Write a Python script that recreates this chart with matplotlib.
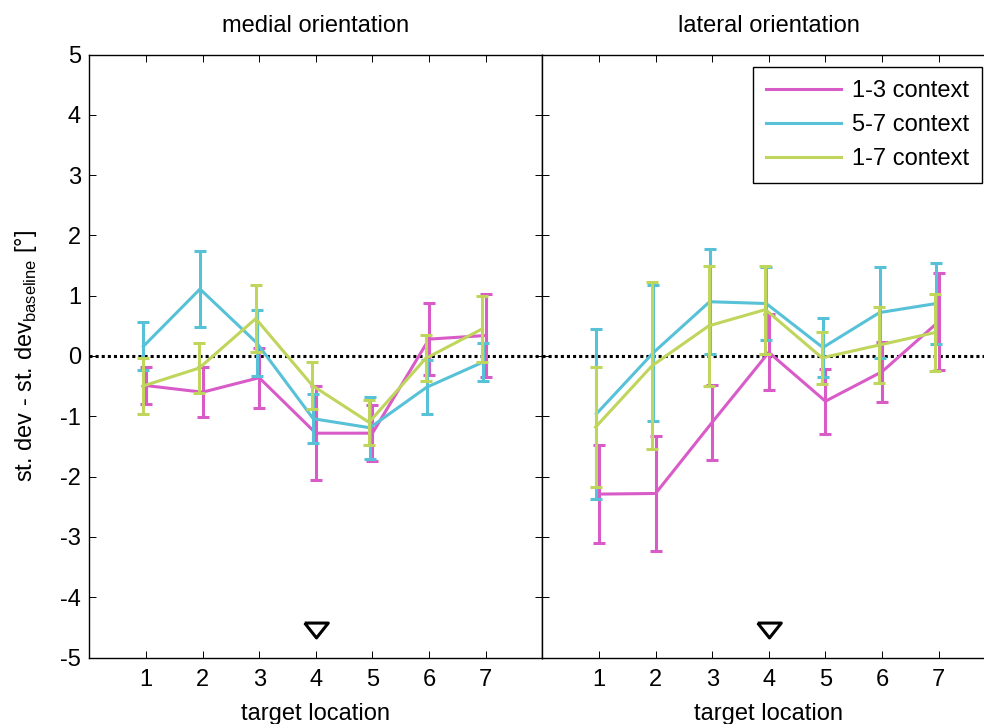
import matplotlib
matplotlib.use("Agg")
import matplotlib.pyplot as plt
from matplotlib.lines import Line2D
import numpy as np

plt.rcParams['font.family'] = ['Liberation Sans', 'DejaVu Sans']
plt.rcParams['mathtext.fontset'] = 'custom'
plt.rcParams['mathtext.rm'] = 'Liberation Sans'
plt.rcParams['axes.unicode_minus'] = False

FS = 17

# target locations
locations = [1, 2, 3, 4, 5, 6, 7]
series_names = ['1-3 context', '5-7 context', '1-7 context']
panel_titles = ['medial orientation', 'lateral orientation']

# medial orientation: means and error half-widths
medial_13 = [-0.49, -0.60, -0.36, -1.28, -1.28, 0.28, 0.34]
medial_13_err = [0.30, 0.41, 0.50, 0.78, 0.46, 0.60, 0.68]
medial_57 = [0.16, 1.11, 0.22, -1.04, -1.19, -0.52, -0.10]
medial_57_err = [0.40, 0.63, 0.55, 0.41, 0.51, 0.45, 0.32]
medial_17 = [-0.50, -0.20, 0.62, -0.49, -1.10, -0.04, 0.45]
medial_17_err = [0.47, 0.42, 0.56, 0.39, 0.37, 0.38, 0.55]

# lateral orientation: means and error half-widths
lateral_13 = [-2.29, -2.28, -1.10, 0.06, -0.75, -0.26, 0.57]
lateral_13_err = [0.81, 0.95, 0.62, 0.63, 0.54, 0.50, 0.80]
lateral_57 = [-0.96, 0.05, 0.90, 0.87, 0.14, 0.72, 0.87]
lateral_57_err = [1.41, 1.12, 0.87, 0.60, 0.49, 0.75, 0.67]
lateral_17 = [-1.18, -0.16, 0.50, 0.77, -0.03, 0.18, 0.39]
lateral_17_err = [1.00, 1.38, 1.00, 0.73, 0.43, 0.63, 0.64]

# location of the reference marker (triangle) in each panel
marker_loc = 4
marker_val = -4.54

colors = ['#d85bc8', '#57c2d7', '#bfd55b']
x_shift = [0.0, -0.045, -0.06]

panels = [
    ([medial_13, medial_57, medial_17], [medial_13_err, medial_57_err, medial_17_err]),
    ([lateral_13, lateral_57, lateral_17], [lateral_13_err, lateral_57_err, lateral_17_err]),
]

W, H = 984, 724
fig = plt.figure(figsize=(W / 100, H / 100), dpi=100)
ax_w = 453 / W
ax_h = 603 / H
ax_y0 = 1 - 657.5 / H
axes = [fig.add_axes([89.3 / W, ax_y0, ax_w, ax_h]),
        fig.add_axes([542.3 / W, ax_y0, ax_w, ax_h])]

tri = [(-1.0, 0.63), (1.0, 0.63), (0.0, -0.63), (-1.0, 0.63)]

for k, ax in enumerate(axes):
    means, errs = panels[k]
    ax.axhline(0, color='black', lw=2.2, linestyle=(0, (1, 1)), zorder=1,
               dash_capstyle='butt')
    for i in range(3):
        xs = np.array(locations) + x_shift[i]
        ax.errorbar(xs, means[i], yerr=errs[i], color=colors[i], lw=2.2,
                    elinewidth=2.2, capsize=4, capthick=2.2, zorder=2 + i)
    ax.plot([marker_loc], [marker_val], marker=tri, markersize=17,
            markerfacecolor='none', markeredgecolor='black', mew=2.2,
            linestyle='none', zorder=6)
    ax.set_xlim(0, 8)
    ax.set_ylim(-5, 5)
    ax.set_xticks(locations)
    ax.set_yticks(np.arange(-5, 6, 1))
    ax.tick_params(direction='in', length=5, width=0.7, top=True, right=True,
                   labelsize=FS)
    ax.tick_params(axis='x', pad=8)
    ax.tick_params(axis='y', pad=6)
    for sp in ax.spines.values():
        sp.set_linewidth(1.0)
    ax.set_title(panel_titles[k], fontsize=FS, pad=16)
    ax.set_xlabel('target location', fontsize=FS, labelpad=9)

axes[1].tick_params(labelleft=False)
axes[0].set_ylabel(r'st. dev - st. dev$_{\mathregular{baseline}}$ [°]',
                   fontsize=FS, labelpad=15)

legend_lines = [Line2D([], [], color=c, lw=2.2) for c in colors]
leg = fig.legend(legend_lines, series_names, loc='upper left',
                 bbox_to_anchor=(752.7 / W, 1 - 67.3 / H),
                 bbox_transform=fig.transFigure, borderaxespad=0,
                 fontsize=FS, fancybox=False, framealpha=1, edgecolor='black',
                 handlelength=3.2, handletextpad=0.45, labelspacing=0.5,
                 borderpad=0.55)
leg.get_frame().set_linewidth(1.0)

fig.savefig('out.png', dpi=100)
